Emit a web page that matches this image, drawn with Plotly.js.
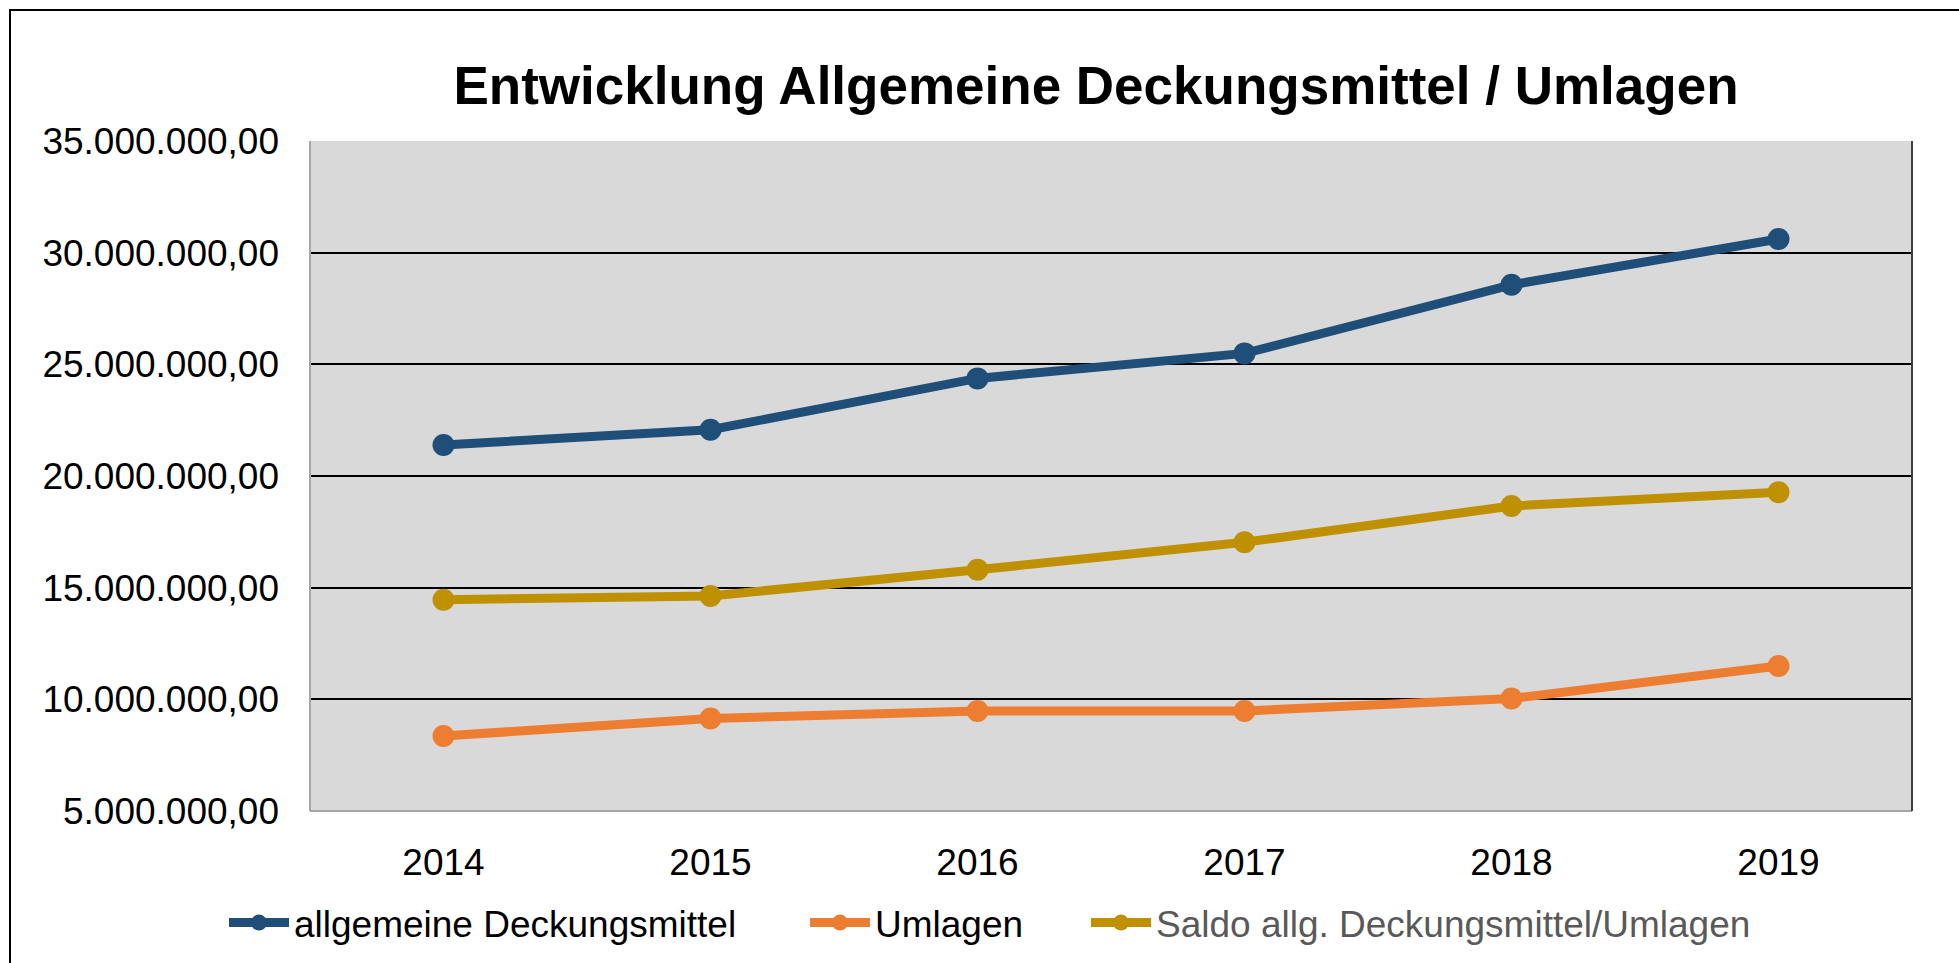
<!DOCTYPE html>
<html>
<head>
<meta charset="utf-8">
<script src="https://cdn.plot.ly/plotly-3.0.1.min.js"></script>
<style>
html,body{margin:0;padding:0;background:#fff;}
#chart{width:1959px;height:963px;}
</style>
</head>
<body>
<div id="chart"></div>
<script>
const years = ['2014','2015','2016','2017','2018','2019'];
const deckungsmittel = [21390000, 22070000, 24370000, 25490000, 28560000, 30610000];
const umlagen = [8360000, 9140000, 9480000, 9480000, 10040000, 11490000];
const saldo = [14460000, 14630000, 15800000, 17030000, 18660000, 19270000];
const yTicks = [5000000, 10000000, 15000000, 20000000, 25000000, 30000000, 35000000];
const seriesNames = ['allgemeine Deckungsmittel', 'Umlagen', 'Saldo allg. Deckungsmittel/Umlagen'];

const FONT = 'Liberation Sans, Arial, sans-serif';
const L = 310, R = 47, T = 141, B = 152, W = 1959, H = 963;
const pw = W - L - R, ph = H - T - B;
function px(x){ return (x - L) / pw; }
function py(y){ return (H - B - y) / ph; }

function tr(name, y, color, legend){
  return {
    type: 'scatter', mode: 'lines+markers', x: years, y: y, name: name,
    legend: legend,
    line: {color: color, width: 9},
    marker: {color: color, size: 22, symbol: 'circle'},
    hoverinfo: 'x+y'
  };
}

const data = [
  tr(seriesNames[0], deckungsmittel, '#1F4E79', 'legend'),
  tr(seriesNames[1], umlagen, '#ED7D31', 'legend2'),
  tr(seriesNames[2], saldo, '#BF9000', 'legend3')
];

function leg(xpix, color){
  return {
    orientation: 'h',
    xref: 'container', yref: 'container',
    x: xpix / W, xanchor: 'left',
    y: 1 - 923 / H, yanchor: 'middle',
    itemwidth: 60,
    font: {family: FONT, size: 37, color: color},
    bgcolor: 'rgba(0,0,0,0)'
  };
}

const layout = {
  width: W, height: H,
  margin: {l: L, r: R, t: T, b: B},
  paper_bgcolor: '#ffffff',
  plot_bgcolor: '#D9D9D9',
  separators: ',.',
  font: {family: FONT, size: 37, color: '#000000'},
  title: {
    text: '<b>Entwicklung Allgemeine Deckungsmittel / Umlagen</b>',
    font: {family: FONT, size: 53, color: '#000000'},
    xref: 'container', yref: 'container',
    x: 1096 / W, xanchor: 'center',
    y: 1 - 85 / H, yanchor: 'middle'
  },
  xaxis: {
    type: 'category', range: [-0.5, 5.5],
    showgrid: false, zeroline: false, showline: false,
    ticks: '', ticklabelstandoff: 26,
    tickfont: {family: FONT, size: 37, color: '#000000'},
    fixedrange: true
  },
  yaxis: {
    range: [5000000, 35000000], tickvals: yTicks, tickformat: ',.2f',
    showgrid: true, gridcolor: '#000000', gridwidth: 2,
    zeroline: false, showline: false, ticks: '',
    ticklabelstandoff: 30,
    tickfont: {family: FONT, size: 37, color: '#000000'},
    fixedrange: true
  },
  showlegend: true,
  legend: leg(224, '#000000'),
  legend2: leg(805, '#000000'),
  legend3: leg(1086, '#595959'),
  shapes: [
    {type: 'line', xref: 'paper', yref: 'paper', x0: 0, x1: 0, y0: 0, y1: 1, line: {color: '#A6A6A6', width: 2}},
    {type: 'line', xref: 'paper', yref: 'paper', x0: 0, x1: 1, y0: 0, y1: 0, line: {color: '#A6A6A6', width: 2}},
    {type: 'line', xref: 'paper', yref: 'paper', x0: 1, x1: 1, y0: 0, y1: 1, line: {color: '#404040', width: 2}},
    {type: 'rect', xref: 'paper', yref: 'paper', x0: px(10), x1: px(W + 20), y0: py(H + 20), y1: py(10), line: {color: '#000000', width: 2}, fillcolor: 'rgba(0,0,0,0)', layer: 'below'}
  ]
};

Plotly.newPlot('chart', data, layout, {displayModeBar: false, staticPlot: true});
</script>
</body>
</html>
